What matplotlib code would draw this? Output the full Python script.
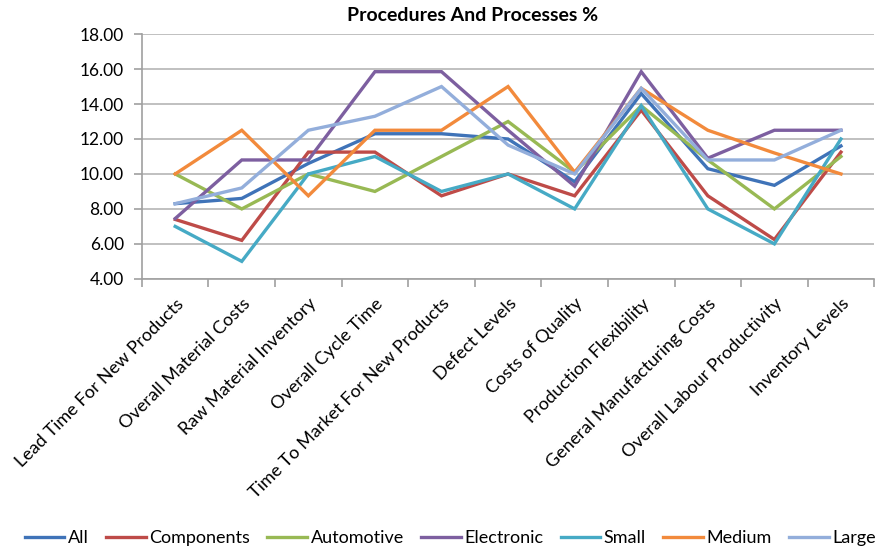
import matplotlib.pyplot as plt
import matplotlib.transforms as mtransforms
import numpy as np

plt.rcParams["font.family"] = ["Lato", "DejaVu Sans"]

categories = [
    "Lead Time For New Products", "Overall Material Costs",
    "Raw Material Inventory", "Overall Cycle Time",
    "Time To Market For New Products", "Defect Levels", "Costs of Quality",
    "Production Flexibility", "General Manufacturing Costs",
    "Overall Labour Productivity", "Inventory Levels",
]

all_firms = [8.3, 8.6, 10.6, 12.3, 12.3, 12.0, 9.55, 14.6, 10.3, 9.35, 11.6]
components = [7.4, 6.2, 11.25, 11.25, 8.75, 10.0, 8.75, 13.65, 8.75, 6.25, 11.25]
automotive = [10.0, 8.0, 10.0, 9.0, 11.0, 13.0, 10.1, 13.9, 10.8, 8.0, 11.0]
electronic = [7.45, 10.8, 10.8, 15.85, 15.85, 12.5, 9.3, 15.85, 10.9, 12.5, 12.5]
small = [7.0, 5.0, 10.0, 11.0, 9.0, 10.0, 8.0, 13.9, 8.0, 6.0, 12.0]
medium = [10.0, 12.5, 8.75, 12.5, 12.5, 15.0, 10.1, 14.9, 12.5, 11.2, 10.0]
large = [8.3, 9.2, 12.5, 13.3, 15.0, 11.65, 10.0, 14.9, 10.8, 10.8, 12.5]

series = [
    ("All", all_firms, "#3F73B8"),
    ("Components", components, "#BE4B48"),
    ("Automotive", automotive, "#98B954"),
    ("Electronic", electronic, "#7D5FA0"),
    ("Small", small, "#46AAC5"),
    ("Medium", medium, "#F28A3C"),
    ("Large", large, "#93AEDB"),
]

fig = plt.figure(figsize=(8.76, 5.5), dpi=100)
ax = fig.add_axes([0.162, 0.493, 0.836, 0.445])

x = np.arange(len(categories))
for name, vals, col in series:
    ax.plot(x, vals, color=col, lw=2.4, label=name, solid_joinstyle="miter")

ax.set_xlim(-0.5, len(categories) - 0.5)
ax.set_ylim(4, 18)
ax.set_yticks(np.arange(4, 18.1, 2))
ax.set_yticklabels([f"{v:.2f}" for v in np.arange(4, 18.1, 2)])
ax.yaxis.grid(True, color="#B5B5B5", lw=1.2)
ax.set_axisbelow(True)

ax.set_xticks(x)
ax.set_xticklabels(categories, rotation=45, ha="right",
                   rotation_mode="anchor", fontsize=13)
# nudge the slanted category labels a little left/down
shift = mtransforms.ScaledTranslation(-0.05, -0.02, fig.dpi_scale_trans)
for lbl in ax.get_xticklabels():
    lbl.set_transform(lbl.get_transform() + shift)
ax.set_xticks(np.arange(-0.5, len(categories)), minor=True)
ax.tick_params(axis="x", which="major", length=0, pad=12)
ax.tick_params(axis="x", which="minor", length=6, color="#A0A0A0", width=1.2)
ax.tick_params(axis="y", length=6, color="#A0A0A0", width=1.2,
               labelsize=12.5, pad=7)

for side in ("top", "right"):
    ax.spines[side].set_visible(False)
for side in ("left", "bottom"):
    ax.spines[side].set_color("#A0A0A0")
    ax.spines[side].set_linewidth(1.2)

fig.text(0.539, 0.972, "Procedures And Processes %", ha="center",
         va="center", fontsize=14, fontweight="bold")

fig.legend(loc="center", bbox_to_anchor=(0.514, 0.022), ncol=7,
           frameon=False, fontsize=13, handlelength=2.2, handletextpad=0.2,
           columnspacing=0.95)

fig.savefig("out.png", dpi=100)
